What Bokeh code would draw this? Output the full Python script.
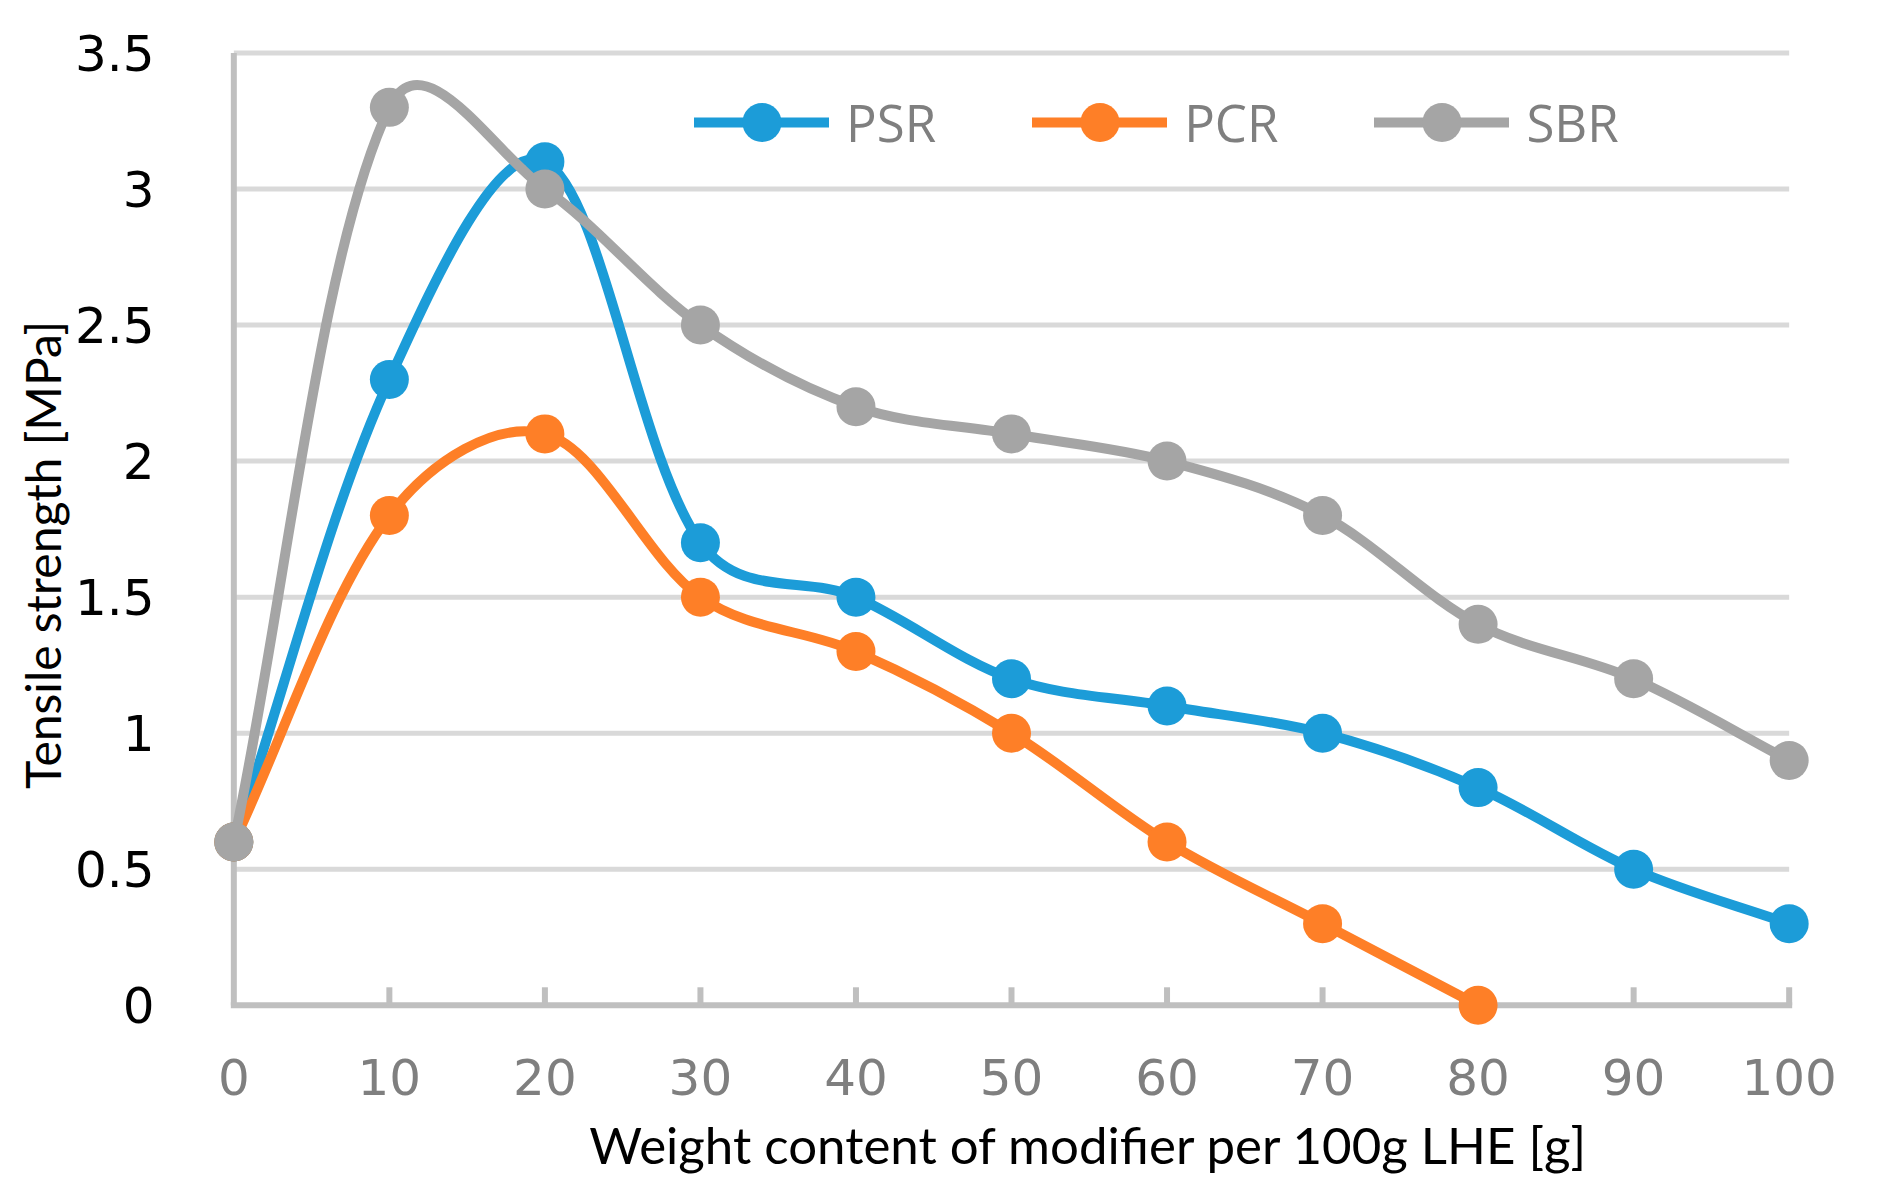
import numpy as np
from bokeh.plotting import figure
from bokeh.models import Range1d, FixedTicker, Legend, LegendItem, LinearAxis
from bokeh.embed import file_html
from bokeh.resources import INLINE

# ---------------- data ----------------
x_vals = [0, 10, 20, 30, 40, 50, 60, 70, 80, 90, 100]
psr_vals = [0.6, 2.3, 3.1, 1.7, 1.5, 1.2, 1.1, 1.0, 0.8, 0.5, 0.3]
pcr_x = [0, 10, 20, 30, 40, 50, 60, 70, 80]
pcr_vals = [0.6, 1.8, 2.1, 1.5, 1.3, 1.0, 0.6, 0.3, 0.0]
sbr_vals = [0.6, 3.3, 3.0, 2.5, 2.2, 2.1, 2.0, 1.8, 1.4, 1.2, 0.9]
series_names = ["PSR", "PCR", "SBR"]

x_ticks = [0, 10, 20, 30, 40, 50, 60, 70, 80, 90, 100]
x_tick_labels = ["0", "10", "20", "30", "40", "50", "60", "70", "80", "90", "100"]
y_ticks = [0, 0.5, 1, 1.5, 2, 2.5, 3, 3.5]
y_tick_labels = ["0", "0.5", "1", "1.5", "2", "2.5", "3", "3.5"]
x_title = "Weight content of modifier per 100g LHE [g]"
y_title = "Tensile strength [MPa]"

# ---------------- styles ----------------
COLORS = ["#1c9cd8", "#fe7f27", "#a5a5a5"]
TICK_FONT = "DejaVu Sans"
LEG_FONT = "Open Sans"
TITLE_FONT = "Lato"
X0, X1 = -1.5, 101.5
Y0, Y1 = -0.1, 3.52
FRAME_W, FRAME_H = 1602, 985
SX = FRAME_W / (X1 - X0)
SY = FRAME_H / (Y1 - Y0)
W, H = 1878, 1184
X_TITLE_AT = 55      # where the x title is centred (data units)
Y_TITLE_AT = 1.655   # where the y title is centred (data units)

p = figure(width=W, height=H, output_backend="svg", toolbar_location=None,
           x_range=Range1d(X0, X1), y_range=Range1d(Y0, Y1),
           frame_width=FRAME_W, frame_height=FRAME_H,
           min_border_left=210, min_border_top=47, min_border_right=66, min_border_bottom=152)
p.outline_line_color = None
p.grid.visible = False
p.background_fill_color = "white"
p.border_fill_color = "white"

# gridlines (from 0 to 100)
gy = [t for t in y_ticks if t > 0]
p.segment(x0=[x_ticks[0]] * len(gy), x1=[x_ticks[-1]] * len(gy), y0=gy, y1=gy,
          line_color="#d9d9d9", line_width=5)

# axis lines and tick marks
AX = "#bfbfbf"
p.segment(x0=[x_ticks[0] - 3 / SX], x1=[x_ticks[-1] + 3 / SX], y0=[0], y1=[0], line_color=AX, line_width=6)
p.segment(x0=[0], x1=[0], y0=[0], y1=[y_ticks[-1]], line_color=AX, line_width=6)
tx = x_ticks[1:]
p.segment(x0=tx, x1=tx, y0=[0] * len(tx), y1=[18 / SY] * len(tx), line_color=AX, line_width=6)


def smooth_ctrl(xs, ys):
    px = np.asarray(xs, float) * SX
    py = np.asarray(ys, float) * SY
    n = len(px)
    out = {k: [] for k in ("x0", "y0", "x1", "y1", "cx0", "cy0", "cx1", "cy1")}
    for i in range(n - 1):
        i0 = max(i - 1, 0)
        i3 = min(i + 2, n - 1)
        P0 = np.array([px[i0], py[i0]]); P1 = np.array([px[i], py[i]])
        P2 = np.array([px[i + 1], py[i + 1]]); P3 = np.array([px[i3], py[i3]])
        d01 = np.sqrt(np.hypot(*(P1 - P0))); d12 = np.sqrt(np.hypot(*(P2 - P1)))
        d23 = np.sqrt(np.hypot(*(P3 - P2)))
        f1 = d12 / (d01 + d12) / 3 if d01 + d12 > 0 else 0
        f2 = d12 / (d12 + d23) / 3 if d12 + d23 > 0 else 0
        C1 = P1 + (P2 - P0) * f1
        C2 = P2 - (P3 - P1) * f2
        out["x0"].append(P1[0] / SX); out["y0"].append(P1[1] / SY)
        out["x1"].append(P2[0] / SX); out["y1"].append(P2[1] / SY)
        out["cx0"].append(C1[0] / SX); out["cy0"].append(C1[1] / SY)
        out["cx1"].append(C2[0] / SX); out["cy1"].append(C2[1] / SY)
    return out


items = []
for name, xs, ys, col in zip(series_names, [x_vals, pcr_x, x_vals], [psr_vals, pcr_vals, sbr_vals], COLORS):
    c = smooth_ctrl(xs, ys)
    br = p.bezier(**c, line_color=col, line_width=10, line_cap="round")
    sr = p.scatter(xs, ys, size=39, fill_color=col, line_color=None)
    items.append(LegendItem(label=name, renderers=[br, sr]))

legend = Legend(items=items, orientation="horizontal", location=(484, 861),
                glyph_width=135, glyph_height=98, label_height=98,
                label_standoff=17, spacing=96, padding=0, margin=0,
                border_line_color=None, background_fill_alpha=0,
                label_text_font=LEG_FONT, label_text_font_size="51px",
                label_text_color="#7f7f7f")
p.add_layout(legend, "center")


def plain(ax):
    ax.axis_line_color = None
    ax.major_tick_line_color = None
    ax.minor_tick_line_color = None
    ax.major_tick_out = 0
    ax.major_tick_in = 0


# axes (labels only)
xa = p.xaxis[0]
plain(xa)
xa.ticker = FixedTicker(ticks=x_ticks)
xa.major_label_overrides = dict(zip(x_ticks, x_tick_labels))
xa.major_label_standoff = 26
xa.major_label_text_font = TICK_FONT
xa.major_label_text_font_size = "50px"
xa.major_label_text_color = "#7f7f7f"

ya = p.yaxis[0]
plain(ya)
ya.ticker = FixedTicker(ticks=y_ticks)
ya.major_label_overrides = dict(zip(y_ticks, y_tick_labels))
ya.major_label_standoff = 56
ya.major_label_text_font = TICK_FONT
ya.major_label_text_font_size = "50px"
ya.major_label_text_color = "black"

# axis titles, placed as single labels of extra axes
xt = LinearAxis(ticker=FixedTicker(ticks=[X_TITLE_AT]),
                major_label_overrides={X_TITLE_AT: x_title})
plain(xt)
xt.major_label_standoff = 16
xt.major_label_text_font = TITLE_FONT
xt.major_label_text_font_size = "51px"
xt.major_label_text_color = "black"
p.add_layout(xt, "below")

yt = LinearAxis(ticker=FixedTicker(ticks=[Y_TITLE_AT]),
                major_label_overrides={Y_TITLE_AT: y_title})
plain(yt)
yt.major_label_orientation = "parallel"
yt.major_label_standoff = 0
yt.major_label_text_font = TITLE_FONT
yt.major_label_text_font_size = "48px"
yt.major_label_text_color = "black"
p.add_layout(yt, "left")

open("out.html", "w").write(file_html(p, INLINE))
